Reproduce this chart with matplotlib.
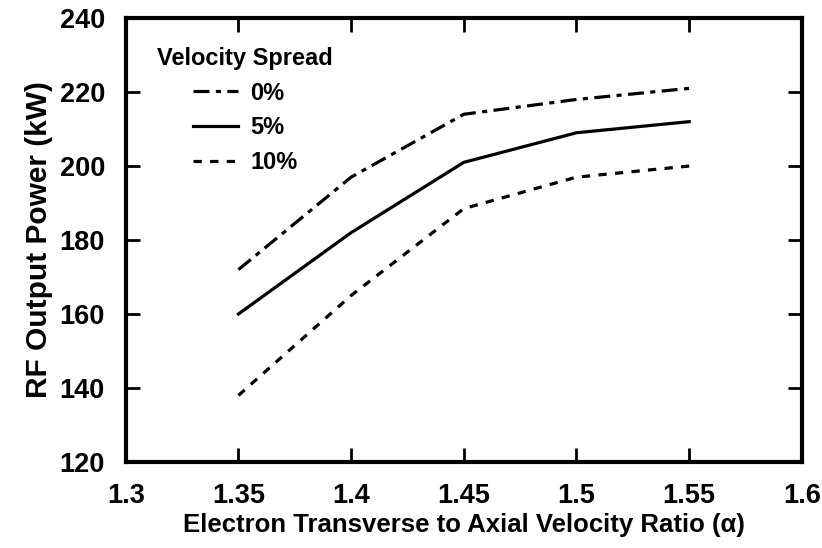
import matplotlib
matplotlib.use("Agg")
from matplotlib import pyplot as plt

# Dane wykresu.
alpha = [1.35, 1.4, 1.45, 1.5, 1.55]
power_0 = [172, 197, 214, 218, 221]
power_5 = [160, 182, 201, 209, 212]
power_10 = [138, 165, 188.5, 197, 200]
labels = ['0%', '5%', '10%']

x_ticks = [1.3, 1.35, 1.4, 1.45, 1.5, 1.55, 1.6]
x_tick_labels = ['1.3', '1.35', '1.4', '1.45', '1.5', '1.55', '1.6']
y_ticks = [120, 140, 160, 180, 200, 220, 240]

plt.rcParams['font.family'] = ['Liberation Sans', 'DejaVu Sans']
plt.rcParams['font.weight'] = 'bold'

fig = plt.figure(figsize=(8.22, 5.48), dpi=100)
ax = fig.add_axes([0.153, 0.157, 0.8225, 0.810])

lw = 2.3
ax.plot(alpha, power_0, c='black', lw=lw, dashes=(5, 2, 1.6, 2), label=labels[0])
ax.plot(alpha, power_5, c='black', lw=lw, label=labels[1])
ax.plot(alpha, power_10, c='black', lw=lw, dashes=(2.6, 2.6), label=labels[2])

# Formatowanie wykresu.
ax.set_xlim(1.3, 1.6)
ax.set_ylim(120, 240)
ax.set_xticks(x_ticks)
ax.set_xticklabels(x_tick_labels)
ax.set_yticks(y_ticks)
ax.tick_params(axis='both', which='major', direction='in', length=10, width=2,
               top=True, right=True, labelsize=19.5)
ax.tick_params(axis='x', pad=15)
ax.tick_params(axis='y', pad=15)
for spine in ax.spines.values():
    spine.set_linewidth(3)

ax.set_xlabel('Electron Transverse to Axial Velocity Ratio (α)', fontsize=18.5,
              fontweight='bold', labelpad=3)
ax.set_ylabel('RF Output Power (kW)', fontsize=21.5, fontweight='bold', labelpad=5)

# Legenda: tytuł osobno, wpisy wcięte.
ax.text(0.046, 0.91, 'Velocity Spread', transform=ax.transAxes, fontsize=17,
        fontweight='bold', ha='left', va='center')
leg = ax.legend(frameon=False, loc='upper left', bbox_to_anchor=(0.099, 0.857),
                fontsize=17, handlelength=1.9, handletextpad=0.55,
                labelspacing=0.5, borderpad=0, borderaxespad=0)
for t in leg.get_texts():
    t.set_fontweight('bold')

fig.savefig('out.png', dpi=100)
